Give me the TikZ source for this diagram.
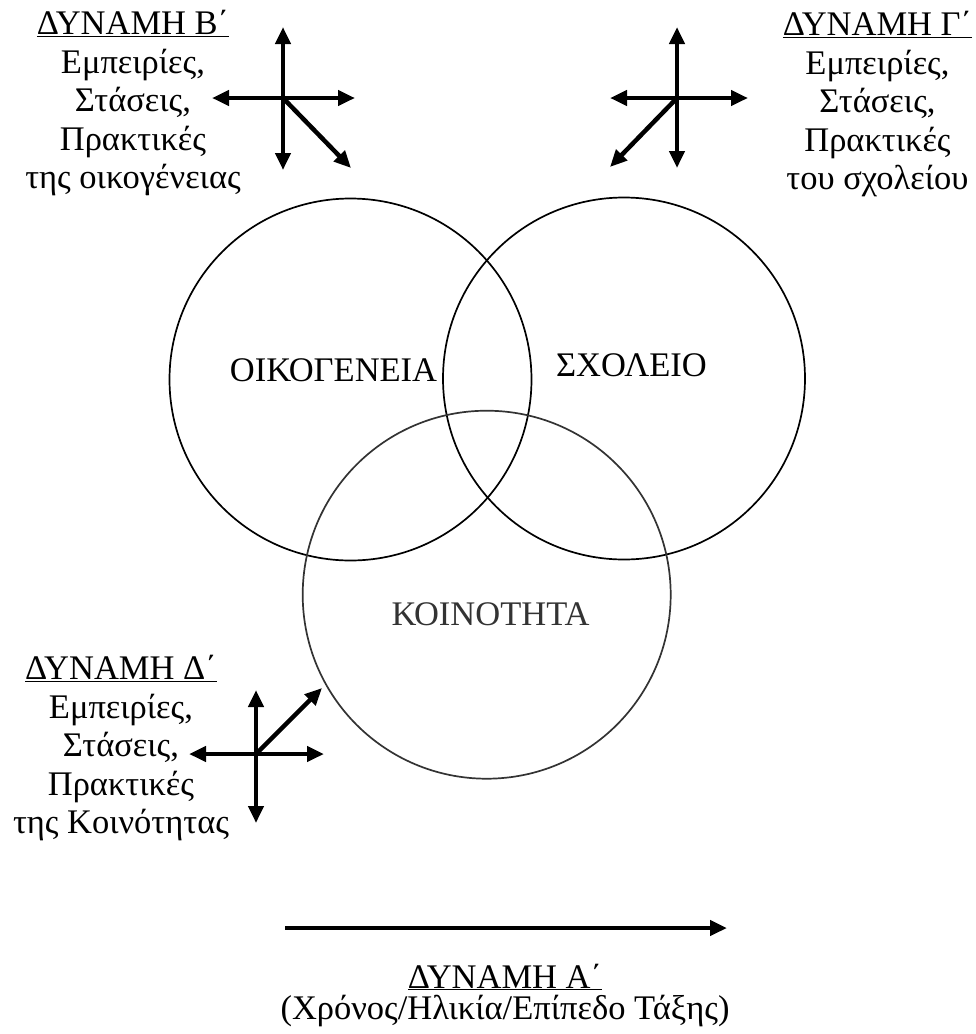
\documentclass[tikz,border=0pt]{standalone}
\usepackage{fontspec}
\setmainfont{Liberation Serif}
\usetikzlibrary{arrows.meta}
\tikzset{
  venn/.style={draw=black, line width=1.7pt},
  txt/.style={align=center, inner sep=0pt, font=\fontsize{34.5}{38.5}\selectfont},
  txtA/.style={align=center, inner sep=0pt, font=\fontsize{34.5}{31}\selectfont},
  lbl/.style={inner sep=0pt, font=\fontsize{34.5}{38}\selectfont},
  vec/.style={line width=4.5pt, -{Triangle[length=17pt,width=15pt]}},
}
\begin{document}
\begin{tikzpicture}[x=1pt,y=-1pt]
\useasboundingbox (0,0) rectangle (976,1034);
% circles
\draw[venn] (350.5,379.5) circle (181);
\draw[venn] (624,378.5) circle (181);
\draw[venn, draw=black!80] (486.7,594.7) circle (184);
\node[lbl] (oik) at (333.5,370) {ΟΙΚΟΓΕΝΕΙΑ};
\node[lbl] (sch) at (631.5,365) {ΣΧΟΛΕΙΟ};
\node[lbl, text=black!80] (koi) at (490.5,614.5) {ΚΟΙΝΟΤΗΤΑ};
% text blocks
\node[txt] (tb) at (133,103.5) {\underline{ΔΥΝΑΜΗ Β΄}\\Εμπειρίες,\\Στάσεις,\\Πρακτικές\\της οικογένειας};
\node[txt] (tg) at (877.5,104.5) {\underline{ΔΥΝΑΜΗ Γ΄}\\Εμπειρίες,\\Στάσεις,\\Πρακτικές\\του σχολείου};
\node[txt] (td) at (121,748) {\underline{ΔΥΝΑΜΗ Δ΄}\\Εμπειρίες,\\Στάσεις,\\Πρακτικές\\της Κοινότητας};
\node[txtA] (ta) at (505,995) {\underline{ΔΥΝΑΜΗ Α΄}\\(Χρόνος/Ηλικία/Επίπεδο Τάξης)};
% cross B
\coordinate (cb) at (283,98);
\coordinate (cbN) at (283,27);
\coordinate (cbS) at (283,170);
\coordinate (cbW) at (212,98);
\coordinate (cbE) at (355,98);
\coordinate (cbD) at (351,168);
\draw[vec] (cb) -- (cbN);
\draw[vec] (cb) -- (cbS);
\draw[vec] (cb) -- (cbW);
\draw[vec] (cb) -- (cbE);
\draw[vec] (cb) -- (cbD);
% cross G
\coordinate (cg) at (677,98);
\coordinate (cgN) at (677,27);
\coordinate (cgS) at (677,168);
\coordinate (cgW) at (610,98);
\coordinate (cgE) at (748,98);
\coordinate (cgD) at (610,167);
\draw[vec] (cg) -- (cgN);
\draw[vec] (cg) -- (cgS);
\draw[vec] (cg) -- (cgW);
\draw[vec] (cg) -- (cgE);
\draw[vec] (cg) -- (cgD);
% cross D
\coordinate (cd) at (256,754);
\coordinate (cdN) at (256,690);
\coordinate (cdS) at (256,823);
\coordinate (cdW) at (189,754);
\coordinate (cdE) at (324,754);
\coordinate (cdD) at (322,688);
\draw[vec] (cd) -- (cdN);
\draw[vec] (cd) -- (cdS);
\draw[vec] (cd) -- (cdW);
\draw[vec] (cd) -- (cdE);
\draw[vec] (cd) -- (cdD);
% force A arrow
\coordinate (a0) at (285,928);
\coordinate (a1) at (727,928);
\draw[vec] (a0) -- (a1);
\end{tikzpicture}
\end{document}
